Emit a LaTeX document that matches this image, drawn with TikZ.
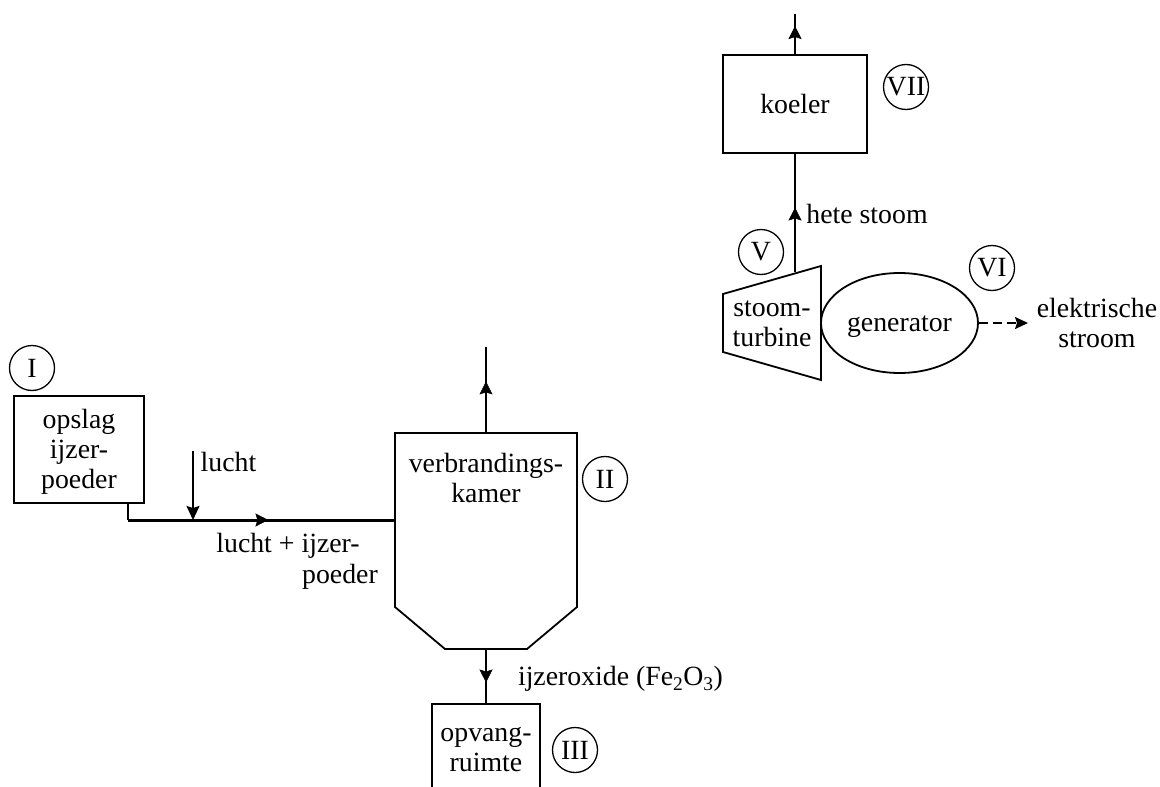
\documentclass[tikz,border=0pt]{standalone}
\usepackage{fontspec}
\setmainfont{Liberation Serif}
\usetikzlibrary{arrows.meta,decorations.markings,shapes.geometric}
\tikzset{
  x=1pt,y=-1pt,
  every node/.style={font=\fontsize{27.8}{30}\selectfont,align=center,inner sep=0pt},
  line/.style={line width=1.8pt,black},
  box/.style={draw,line width=1.8pt,inner sep=0pt},
  num/.style={draw,circle,line width=1.3pt,minimum size=45pt,inner sep=0pt},
  tipat/.style={postaction=decorate,decoration={markings,mark=at position #1 with {\arrow[line width=0.6pt]{Stealth[length=13pt,width=13pt,inset=2pt]}}}},
}
\begin{document}
\begin{tikzpicture}
\path[use as bounding box] (0,0) rectangle (1160,787);
\clip (0,0) rectangle (1160,787);
% boxes
\node[box,minimum width=130pt,minimum height=107pt] (opslag) at (79,449.5) {};
\node (opslagtxt) at (79,451.5) {opslag\\ijzer-\\poeder};
\node[box,minimum width=144pt,minimum height=98pt] (koeler) at (795,104) {koeler};
\node[box,minimum width=108pt,minimum height=130pt,anchor=north] (opvang) at (486,703) {};
\node (opvangtxt) at (486,749.5) {opvang-\\ruimte};
% chamber
\coordinate (c1) at (395,433); \coordinate (c2) at (577,433);
\coordinate (c3) at (577,607); \coordinate (c4) at (527,649);
\coordinate (c5) at (445,649); \coordinate (c6) at (395,607);
\draw[line,line join=miter] (c1)--(c2)--(c3)--(c4)--(c5)--(c6)--cycle;
\node (kamer) at (486,478) {verbrandings-\\kamer};
% turbine and generator
\coordinate (t1) at (723,294); \coordinate (t2) at (821,266);
\coordinate (t3) at (821,380); \coordinate (t4) at (723,352);
\draw[line,line join=miter] (t1)--(t2)--(t3)--(t4)--cycle;
\node (turbine) at (772,323.5) {stoom-\\turbine};
\node[draw,ellipse,line width=1.8pt,minimum width=157pt,minimum height=100pt] (gen) at (899.5,323) {};
\node (gentxt) at (899.5,327) {generator};
% numbers
\node[num] (nI) at (32,368) {I};
\node[num] (nII) at (605,479) {II};
\node[num] (nIII) at (575,750) {III};
\node[num] (nV) at (761,252) {V};
\node[num] (nVI) at (992,268) {VI};
\node[num] (nVII) at (906,87) {VII};
% connectors
\coordinate (o1) at (128,503); \coordinate (o2) at (128,520); \coordinate (in) at (395,520);
\draw[line width=3pt,tipat=0.526] (o2)--(in);
\draw[line] (o1)--(o2);
\coordinate (l1) at (193,451); \coordinate (l2) at (193,520);
\draw[line,-{Stealth[length=14pt,width=13pt,inset=2pt]}] (l1)--(l2);
\coordinate (up1) at (486,433); \coordinate (up2) at (486,347);
\draw[line,tipat=0.6] (up1)--(up2);
\coordinate (d1) at (486,649);
\draw[line,tipat=0.62] (d1)--(opvang.north);
\coordinate (s1) at (795,272);
\draw[line,tipat=0.546] (s1)--(koeler.south);
\coordinate (k1) at (795,14);
\draw[line,tipat=0.7] (koeler.north)--(k1);
\coordinate (e1) at (1028,323);
\draw[line,dashed,dash pattern=on 9pt off 5pt,-{Stealth[length=13pt,width=12pt,inset=2pt]}] (gen.east)--(e1);
% labels
\node (lucht) at (228.5,462) {lucht};
\node (mix) at (288,546) {lucht + ijzer-};
\node (mix2) at (340,577) {poeder};
\node (ox) at (620.5,679) {ijzeroxide (Fe\textsubscript{2}O\textsubscript{3})};
\node (hete) at (867,214) {hete stoom};
\node (elek) at (1097,323) {elektrische\\stroom};
\end{tikzpicture}
\end{document}
